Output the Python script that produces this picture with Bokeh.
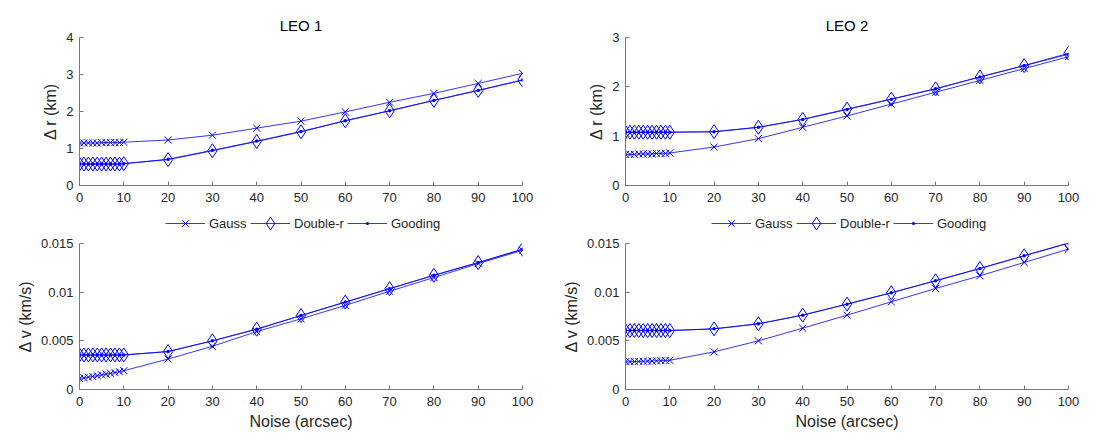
from bokeh.plotting import figure
from bokeh.models import Range1d, FixedTicker, Legend, LegendItem
from bokeh.layouts import column, row
from bokeh.embed import file_html
from bokeh.resources import INLINE

noise = [0, 1, 2, 3, 4, 5, 6, 7, 8, 9, 10, 20, 30, 40, 50, 60, 70, 80, 90, 100]

leo1_dr_gauss = [1.15, 1.15, 1.15, 1.15, 1.15, 1.16, 1.16, 1.16, 1.16, 1.16, 1.17,
                 1.23, 1.36, 1.55, 1.74, 1.99, 2.25, 2.49, 2.76, 3.03]
leo1_dr_double = [0.58, 0.58, 0.58, 0.58, 0.58, 0.58, 0.58, 0.58, 0.58, 0.58, 0.59,
                  0.70, 0.94, 1.19, 1.45, 1.75, 2.02, 2.30, 2.57, 2.85]
leo1_dr_gooding = [0.58, 0.58, 0.58, 0.58, 0.58, 0.58, 0.58, 0.58, 0.58, 0.58, 0.59,
                   0.71, 0.95, 1.20, 1.46, 1.75, 2.02, 2.30, 2.57, 2.85]

leo1_dv_gauss = [0.00113, 0.00120, 0.00127, 0.00134, 0.00142, 0.00150, 0.00158, 0.00166,
                 0.00174, 0.00183, 0.00193, 0.00313, 0.00444, 0.00595, 0.00726, 0.00864,
                 0.0101, 0.0115, 0.01294, 0.0143]
leo1_dv_double = [0.00355, 0.00355, 0.00355, 0.00355, 0.00355, 0.00355, 0.00355, 0.00355,
                  0.00355, 0.00355, 0.00355, 0.0039, 0.0050, 0.0062, 0.0076, 0.00898,
                  0.01036, 0.01173, 0.01304, 0.01441]
leo1_dv_gooding = [0.00355, 0.00355, 0.00355, 0.00355, 0.00355, 0.00355, 0.00355, 0.00355,
                   0.00355, 0.00355, 0.00355, 0.0039, 0.0050, 0.0062, 0.0076, 0.00898,
                   0.01036, 0.01173, 0.01304, 0.01441]

leo2_dr_gauss = [0.63, 0.63, 0.63, 0.64, 0.64, 0.64, 0.64, 0.65, 0.65, 0.65, 0.66,
                 0.78, 0.95, 1.18, 1.41, 1.65, 1.89, 2.13, 2.37, 2.61]
leo2_dr_double = [1.08, 1.08, 1.08, 1.08, 1.08, 1.08, 1.08, 1.08, 1.08, 1.08, 1.08,
                  1.09, 1.18, 1.34, 1.55, 1.75, 1.96, 2.20, 2.43, 2.68]
leo2_dr_gooding = [1.08, 1.08, 1.08, 1.08, 1.08, 1.08, 1.08, 1.08, 1.08, 1.08, 1.08,
                   1.09, 1.18, 1.34, 1.54, 1.75, 1.96, 2.20, 2.43, 2.66]

leo2_dv_gauss = [0.00285, 0.00286, 0.00287, 0.00288, 0.00289, 0.00291, 0.00292, 0.00294,
                 0.00296, 0.00298, 0.0030, 0.00387, 0.0050, 0.0063, 0.00764, 0.00901,
                 0.01038, 0.01168, 0.01305, 0.01443]
leo2_dv_double = [0.00606, 0.00606, 0.00606, 0.00606, 0.00606, 0.00606, 0.00606, 0.00606,
                  0.00606, 0.00606, 0.00606, 0.00623, 0.00675, 0.00764, 0.00877, 0.00994,
                  0.01117, 0.01243, 0.01374, 0.01504]
leo2_dv_gooding = [0.00606, 0.00606, 0.00606, 0.00606, 0.00606, 0.00606, 0.00606, 0.00606,
                   0.00606, 0.00606, 0.00606, 0.00623, 0.00675, 0.00764, 0.00877, 0.00994,
                   0.01117, 0.01243, 0.01374, 0.01504]

x_ticks = [0, 10, 20, 30, 40, 50, 60, 70, 80, 90, 100]
dr1_ticks = [0, 1, 2, 3, 4]
dr2_ticks = [0, 1, 2, 3]
dv_ticks = [0, 0.005, 0.01, 0.015]
dv_labels = ["0", "0.005", "0.01", "0.015"]
series_names = ["Gauss", "Double-r", "Gooding"]

BLUE = "#0000FF"
TXT = "#262626"
AX = "#777777"
FONT = "Liberation Sans"


def make_fig(title, ylabel, ymax, yticks, ylabels, top, xlabel, width, left):
    if top:
        h, bt, bb = 211, 37, 26
    else:
        h, bt, bb = 206, 8, 52
    p = figure(width=width, height=h, output_backend="svg", toolbar_location=None,
               x_range=Range1d(0, 100), y_range=Range1d(0, ymax),
               min_border_left=left, min_border_right=30,
               min_border_top=bt, min_border_bottom=bb)
    if title:
        p.title.text = title
        p.title.align = "center"
        p.title.text_font = FONT
        p.title.text_font_size = "15px"
        p.title.text_font_style = "normal"
        p.title.text_color = "#000000"
        p.title.standoff = 8
    p.outline_line_color = None
    p.xgrid.visible = False
    p.ygrid.visible = False
    for ax in (p.xaxis[0], p.yaxis[0]):
        ax.axis_line_color = AX
        ax.major_tick_line_color = AX
        ax.major_tick_in = 4
        ax.major_tick_out = 0
        ax.minor_tick_line_color = None
        ax.major_label_text_font = FONT
        ax.major_label_text_font_size = "13px"
        ax.major_label_text_color = TXT
        ax.axis_label_text_font = FONT
        ax.axis_label_text_font_size = "16px"
        ax.axis_label_text_font_style = "normal"
        ax.axis_label_text_color = TXT
    p.xaxis.ticker = FixedTicker(ticks=x_ticks)
    p.xaxis.major_label_standoff = 7
    p.yaxis.ticker = FixedTicker(ticks=yticks)
    p.yaxis.major_label_overrides = {t: l for t, l in zip(yticks, ylabels)}
    p.yaxis.major_label_standoff = 6
    p.yaxis.axis_label = ylabel
    p.yaxis.axis_label_standoff = 4
    if xlabel:
        p.xaxis.axis_label = xlabel
        p.xaxis.axis_label_standoff = 4
    return p


def style_series(p, xs, g, d, o):
    lg = p.line(xs, g, line_color=BLUE, line_width=0.8)
    sg = p.scatter(xs, g, marker="x", size=10, line_color=BLUE, line_width=1)
    ld = p.line(xs, d, line_color=BLUE, line_width=0.8)
    sd = p.scatter(xs, d, marker="diamond", size=14, line_color=BLUE,
                   fill_color=None, line_width=1)
    lo = p.line(xs, o, line_color=BLUE, line_width=0.8)
    so = p.scatter(xs, o, marker="dot", size=14, line_color=BLUE, fill_color=BLUE,
                   line_width=1.5)
    return [(lg, sg), (ld, sd), (lo, so)]


# per-item legend geometry (offset from panel left, glyph box height)
legend_offsets = [86, 171, 268]
legend_glyph_heights = [22, 32, 32]


def make_legend_fig(width, left, g, d, o):
    # legend strip: same series, drawn outside the strip's visible y-range
    p = figure(width=width, height=24, output_backend="svg", toolbar_location=None,
               x_range=Range1d(0, 100), y_range=Range1d(1000, 1001),
               x_axis_type=None, y_axis_type=None,
               min_border_left=left, min_border_right=30,
               min_border_top=0, min_border_bottom=0)
    p.outline_line_color = None
    p.xgrid.visible = False
    p.ygrid.visible = False
    rs = style_series(p, noise, g, d, o)
    for name, r, off, gh in zip(series_names, rs, legend_offsets, legend_glyph_heights):
        leg = Legend(items=[LegendItem(label=name, renderers=list(r))],
                     orientation="horizontal", location=(off, 12 - gh / 2),
                     glyph_width=40, glyph_height=gh, label_standoff=4, spacing=0,
                     padding=0, margin=0, border_line_color=None,
                     background_fill_alpha=0,
                     label_text_font=FONT, label_text_font_size="13px",
                     label_text_color=TXT)
        p.add_layout(leg, "center")
    return p


p1 = make_fig("LEO 1", "\u0394 r (km)", 4, dr1_ticks, [str(t) for t in dr1_ticks], True, None, 552, 79)
p2 = make_fig("LEO 2", "\u0394 r (km)", 3, dr2_ticks, [str(t) for t in dr2_ticks], True, None, 546, 73)
p3 = make_fig(None, "\u0394 v (km/s)", 0.015, dv_ticks, dv_labels, False, "Noise (arcsec)", 552, 79)
p4 = make_fig(None, "\u0394 v (km/s)", 0.015, dv_ticks, dv_labels, False, "Noise (arcsec)", 546, 73)

style_series(p1, noise, leo1_dr_gauss, leo1_dr_double, leo1_dr_gooding)
style_series(p2, noise, leo2_dr_gauss, leo2_dr_double, leo2_dr_gooding)
style_series(p3, noise, leo1_dv_gauss, leo1_dv_double, leo1_dv_gooding)
style_series(p4, noise, leo2_dv_gauss, leo2_dv_double, leo2_dv_gooding)

l1 = make_legend_fig(552, 79, leo1_dr_gauss, leo1_dr_double, leo1_dr_gooding)
l2 = make_legend_fig(546, 73, leo2_dr_gauss, leo2_dr_double, leo2_dr_gooding)

layout = column(row(p1, p2), row(l1, l2), row(p3, p4))
open("out.html", "w").write(file_html(layout, INLINE))
